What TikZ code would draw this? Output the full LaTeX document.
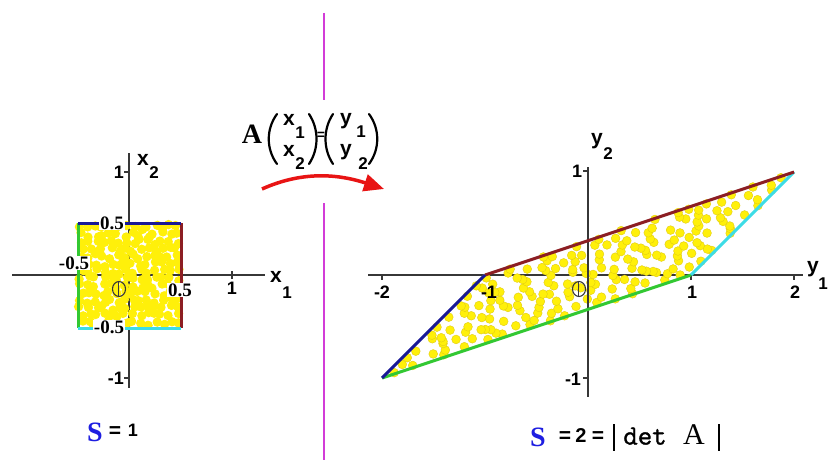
\documentclass[tikz,border=0pt]{standalone}
\usepackage{fontspec}
\setmainfont{Liberation Serif}
\newfontfamily\arialf{Liberation Sans}
\newfontfamily\monof[FakeBold=1.2]{Latin Modern Mono}
\usetikzlibrary{arrows.meta}
\definecolor{edgeblue}{RGB}{25,25,150}
\definecolor{edgebrown}{RGB}{140,30,35}
\definecolor{edgecyan}{RGB}{60,220,230}
\definecolor{edgegreen}{RGB}{50,200,50}
\definecolor{dotyellow}{RGB}{255,240,10}
\definecolor{dotedge}{RGB}{225,205,20}
\definecolor{magentaline}{RGB}{210,60,215}
\definecolor{sblue}{RGB}{30,30,225}
\definecolor{axisgray}{RGB}{55,55,55}
\definecolor{arrowred}{RGB}{232,20,20}
\begin{document}
\begin{tikzpicture}[x=1pt,y=-1pt,
  txt/.style={inner sep=0pt, text depth=0pt, anchor=center},
  ticklab/.style={txt, font=\arialf\bfseries\fontsize{18}{18}\selectfont},
  halflab/.style={txt, font=\bfseries\fontsize{19}{19}\selectfont, fill=white, inner sep=1pt},
  varlab/.style={txt, font=\arialf\bfseries\fontsize{21}{21}\selectfont},
  sublab/.style={txt, font=\arialf\bfseries\fontsize{17}{17}\selectfont},
  axisline/.style={draw=axisgray, line width=1.1pt},
  edgeline/.style={line width=3pt},
  dotfill/.style={fill=dotyellow, draw=dotedge, line width=0.4pt},
  paren/.style={line width=2.2pt, line cap=round},
  originmark/.style={draw=axisgray, line width=1.1pt},
  slab/.style={txt, text=sblue, font=\bfseries\fontsize{28}{28}\selectfont},
  eqlab/.style={txt, font=\arialf\bfseries\fontsize{21}{21}\selectfont}
]
\useasboundingbox (0,0) rectangle (830,460);
\fill[white] (0,0) rectangle (830,460);

% separator
\draw[magentaline, line width=1.6pt] (324,13) -- (324,100);
\draw[magentaline, line width=1.6pt] (324,203) -- (324,460);

% left axes
\draw[axisline] (12,275) -- (265,275);
\draw[axisline] (129,153) -- (129,388);
\draw[axisline] (124,172) -- (129,172);
\draw[axisline] (124,378) -- (129,378);
\draw[axisline] (232,271) -- (232,279);

% right axes
\draw[axisline] (368,275) -- (803,275);
\draw[axisline] (588,167) -- (588,397);
\draw[axisline] (583,171) -- (588,171);
\draw[axisline] (583,378) -- (588,378);
\foreach \tx in {382,485,691,794}{\draw[axisline] (\tx,275) -- (\tx,280);}

% points (jittered grid)
\pgfmathsetseed{77}
\foreach \i in {0,...,13}{
  \foreach \j in {0,...,13}{
    \pgfmathsetmacro{\u}{-0.5+(\i+0.5)/14+0.028*rand}
    \pgfmathsetmacro{\v}{-0.5+(\j+0.5)/14+0.028*rand}
    \fill[dotyellow] ({129+103*\u},{275-103*\v}) circle[radius=4.7];
    \fill[dotfill] ({588+103*(\u-3*\v)},{275-103*(\u-\v)}) circle[radius=4.4];
  }
}
\draw[axisline] (588,167) -- (588,397);

% left square
\coordinate (sq1) at (78,223);
\coordinate (sq2) at (181,223);
\coordinate (sq3) at (181,328);
\coordinate (sq4) at (78,328);
\draw[edgeline, edgegreen] (sq1) -- (sq4);
\draw[edgeline, edgebrown] (sq2) -- (sq3);
\draw[edgeline, edgeblue] (sq1) -- (sq2);
\draw[edgeline, edgecyan] (sq4) -- (sq3);

% right parallelogram
\coordinate (pa) at (382,378);
\coordinate (pb) at (485,275);
\coordinate (pc) at (794,172);
\coordinate (pd) at (691,275);
\draw[edgeline, edgegreen] (pa) -- (pd);
\draw[edgeline, edgecyan] (pd) -- (pc);
\draw[edgeline, edgebrown] (pb) -- (pc);
\draw[edgeline, edgeblue] (pa) -- (pb);

% origin marks
\draw[originmark] (119,289) ellipse[x radius=6.5, y radius=7.5];
\draw[originmark] (118.5,282) -- (118.5,296);
\draw[originmark] (579,289) ellipse[x radius=6.5, y radius=7.5];
\draw[originmark] (578.5,282) -- (578.5,296);

% left labels
\node[ticklab] (l1y) at (119,172) {1};
\node[ticklab] (lm1y) at (116,378) {-1};
\node[ticklab] (l1x) at (232,288) {1};
\node[halflab] (lht) at (112,223) {0.5};
\node[halflab] (lhl) at (74,263) {-0.5};
\node[halflab] (lhr) at (180,290) {0.5};
\node[halflab] (lhb) at (109,327) {-0.5};
\node[varlab] (lx2) at (143,160) {x};
\node[sublab] (lx2s) at (154,173) {2};
\node[varlab] (lx1) at (276,277) {x};
\node[sublab] (lx1s) at (287,293) {1};

% right labels
\node[ticklab] (r1y) at (577,171) {1};
\node[ticklab] (rm1y) at (573,379) {-1};
\node[ticklab] (rm2x) at (382,292) {-2};
\node[ticklab] (rm1x) at (489,292) {-1};
\node[ticklab] (r1x) at (692,292) {1};
\node[ticklab] (r2x) at (795,292) {2};
\node[varlab] (ry2) at (597,139) {y};
\node[sublab] (ry2s) at (608,154) {2};
\node[varlab] (ry1) at (813,267) {y};
\node[sublab] (ry1s) at (823,284) {1};

% formula
\node[txt, font=\bfseries\fontsize{28}{28}\selectfont] (fA) at (252,134) {A};
\draw[paren] (277,114) .. controls (266,129) and (266,149) .. (277,164);
\node[varlab] (fx1) at (289,120) {x};
\node[sublab] (fx1s) at (300,133) {1};
\node[varlab] (fx2) at (289,151) {x};
\node[sublab] (fx2s) at (300,164) {2};
\draw[paren] (309,114) .. controls (319,129) and (319,149) .. (309,164);
\node[txt, font=\arialf\bfseries\fontsize{14}{14}\selectfont] (feq) at (321,136) {=};
\draw[paren] (333,114) .. controls (323,129) and (323,149) .. (333,164);
\node[varlab] (fy1) at (346,119) {y};
\node[sublab] (fy1s) at (361,132) {1};
\node[varlab] (fy2) at (346,150) {y};
\node[sublab] (fy2s) at (363,164) {2};
\draw[paren] (369,114) .. controls (380,129) and (380,149) .. (369,164);

% arrow
\coordinate (arrS) at (262,189);
\coordinate (arrE) at (384,189);
\draw[arrowred, line width=3.5pt, -{Triangle[length=20pt,width=17pt]}] (arrS) .. controls (300,172) and (335,173) .. (arrE);

% areas
\node[slab] (sl) at (95,432) {S};
\node[eqlab] (sleq) at (115,432) {=};
\node[ticklab] (sl1) at (133,430) {1};
\node[slab] (sr) at (538,437) {S};
\node[eqlab] (sreq1) at (565,437) {=};
\node[txt, font=\arialf\bfseries\fontsize{20}{20}\selectfont] (sr2) at (581,436) {2};
\node[eqlab] (sreq2) at (598,437) {=};
\draw[line width=2.6pt] (614,424) -- (614,451);
\node[txt, font=\monof\fontsize{28}{28}\selectfont] (sdet) at (645,436) {det};
\node[txt, font=\fontsize{30}{30}\selectfont] (sA) at (694,435) {A};
\draw[line width=2.6pt] (719,424) -- (719,451);
\end{tikzpicture}
\end{document}
